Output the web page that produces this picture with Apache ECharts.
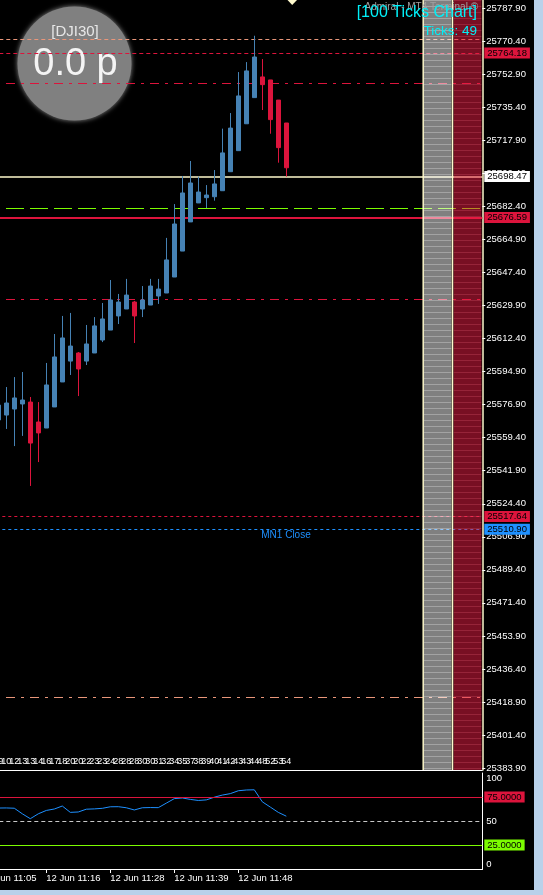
<!DOCTYPE html>
<html><head><meta charset="utf-8">
<script src="https://cdn.jsdelivr.net/npm/echarts@6/dist/echarts.min.js"></script>
<style>html,body{margin:0;padding:0;background:#000;overflow:hidden;width:543px;height:895px;position:relative}#c{position:absolute;left:-24px;top:0;width:567px;height:895px;}</style>
</head><body><div id="c"></div>
<script>
// ---- data ----
const priceLabels = ['25787.90','25770.40','25752.90','25735.40','25717.90','25700.40','25682.40','25664.90','25647.40','25629.90','25612.40','25594.90','25576.90','25559.40','25541.90','25524.40','25506.90','25489.40','25471.40','25453.90','25436.40','25418.90','25401.40','25383.90'];
const candleOpen  = [25569.0,25571.6,25574.8,25577.5,25578.5,25567.9,25564.7,25575.9,25589.2,25600.3,25604.6,25600.3,25604.6,25611.5,25616.8,25624.3,25628.0,25631.7,25628.0,25630.1,25634.9,25636.5,25645.0,25658.8,25674.3,25684.4,25687.2,25687.7,25690.9,25701.0,25712.2,25726.5,25740.4,25751.4,25749.8,25739.1,25726.9];
const candleClose = [25576.9,25578.0,25580.7,25579.6,25556.7,25562.1,25587.6,25602.5,25612.6,25608.3,25596.1,25609.4,25619.0,25622.7,25632.8,25631.7,25635.4,25624.3,25632.8,25640.2,25638.6,25654.1,25673.2,25689.7,25695.0,25690.2,25688.6,25694.5,25711.0,25724.2,25741.3,25754.6,25762.0,25747.3,25728.7,25713.8,25703.1];
const candleLow   = [25565.8,25564.2,25555.1,25560.5,25533.9,25546.6,25564.7,25575.9,25589.2,25592.9,25581.7,25598.2,25604.6,25610.4,25616.8,25620.0,25628.0,25609.9,25623.7,25630.1,25630.7,25636.5,25645.0,25658.8,25674.3,25684.4,25681.7,25685.6,25690.9,25701.0,25712.2,25726.5,25740.4,25733.8,25721.2,25705.8,25698.4];
const candleHigh  = [25579.6,25586.5,25591.8,25594.5,25581.2,25578.5,25599.3,25614.7,25624.3,25625.9,25605.1,25619.5,25623.7,25631.2,25643.4,25636.0,25644.0,25632.3,25640.2,25644.0,25644.0,25665.8,25683.8,25698.7,25706.7,25698.4,25693.9,25701.9,25723.9,25732.2,25754.0,25759.3,25773.3,25760.9,25749.8,25739.1,25726.9];
const oscValues   = [63.5,63.6,63.3,57.5,52.4,57.5,61.0,62.5,65.6,59.0,59.4,62.3,62.6,63.2,64.8,64.9,63.8,61.5,63.8,64.0,63.9,68.6,73.3,74.0,72.5,71.4,72.0,74.8,77.0,78.5,81.5,82.3,82.5,70.0,64.5,59.0,55.0];
const barLabels   = ['09','10','12','13','13','14','16','17','18','20','20','22','23','23','24','28','28','28','30','30','31','32','34','35','37','38','39','40','41','42','43','43','44','48','52','53','54'];
const timeLabels  = ['12 Jun 11:05','12 Jun 11:16','12 Jun 11:28','12 Jun 11:39','12 Jun 11:48'];
const oscLevels   = [100, 75, 50, 25, 0];

const salmonTop   = 25771.4;
const redDashTop  = 25764.18;
const redDashDot1 = 25748.0;
const bidLine     = 25698.47;
const greenDash   = 25681.5;
const redSolid    = 25676.59;
const redDashDot2 = 25633.1;
const redDashLow  = 25517.64;
const mn1Close    = 25510.90;
const salmonLow   = 25421.5;

const priceMin = 25382.85, priceMax = 25792.31;

// ---- build ----
const SHIFT = 24;               // container starts 24px left of the page
const X = v => v + SHIFT;       // page x -> container x
const LEAD = 2, TOTAL = 63;
const cats = Array.from({length: TOTAL}, (_, i) => 'c' + i);
const candleData = [];
for (let i = 0; i < LEAD; i++) candleData.push('-');
candleOpen.forEach((o, k) => candleData.push([o, candleClose[k], candleLow[k], candleHigh[k]]));
const oscData = [];
for (let i = 0; i < LEAD; i++) oscData.push('-');
oscValues.forEach(v => oscData.push(v));

const FONT = '"Liberation Sans", Arial, sans-serif';
function box(bg) {
  return {show: true, position: 'end', distance: 2, formatter: p => Number(p.value).toFixed(2),
    backgroundColor: bg, color: '#000', padding: [1, 3, 0, 3], fontSize: 9.5, fontFamily: FONT};
}
function stripes(base, stripe, h) {
  const c = document.createElement('canvas'); c.width = 4; c.height = h;
  const g = c.getContext('2d'); g.fillStyle = base; g.fillRect(0, 0, 4, h);
  g.clearRect(0, 0, 4, 1); g.fillStyle = stripe; g.fillRect(0, 0, 4, 1);
  return {image: c, repeat: 'repeat'};
}

const gridL = X(-21.7), gridR = 60.7;
const chart = echarts.init(document.getElementById('c'), null, {renderer: 'canvas'});
const option = {
  backgroundColor: '#000',
  animation: false,
  grid: [
    {left: gridL, right: gridR, top: 0, height: 770},
    {left: gridL, right: gridR, top: 8.3, height: 759.7},
    {left: gridL, right: gridR, top: 773, height: 96}
  ],
  xAxis: [
    {gridIndex: 0, type: 'category', data: cats, boundaryGap: true,
      axisLine: {show: true, lineStyle: {color: '#fff', width: 1}}, axisTick: {show: false},
      axisLabel: {inside: true, interval: 0, margin: 4, color: '#fff', fontSize: 9, fontFamily: FONT,
        formatter: (v, i) => barLabels[i - LEAD] || ''}, splitLine: {show: false}},
    {gridIndex: 1, type: 'category', data: cats, show: false},
    {gridIndex: 2, type: 'category', data: cats, boundaryGap: true, position: 'bottom',
      axisLine: {show: true, lineStyle: {color: '#fff'}},
      axisTick: {show: true, alignWithLabel: true, length: 4, lineStyle: {color: '#fff'},
        interval: i => i % 8 === 0 && i / 8 < timeLabels.length},
      axisLabel: {interval: 0, align: 'left', margin: 4, color: '#fff', fontSize: 9.5, fontFamily: FONT,
        formatter: (v, i) => (i % 8 === 0 ? (timeLabels[i / 8] || '') : '')},
      splitLine: {show: false}},
    {gridIndex: 2, type: 'category', data: cats, position: 'top',
      axisLine: {show: true, lineStyle: {color: '#fff'}}, axisTick: {show: false}, axisLabel: {show: false}}
  ],
  yAxis: [
    {gridIndex: 0, type: 'value', min: priceMin, max: priceMax, position: 'right',
      axisLine: {show: true, lineStyle: {color: '#fffacd', width: 1.5}}, axisTick: {show: false},
      axisLabel: {show: false}, splitLine: {show: false}},
    {gridIndex: 1, type: 'value', min: 0, max: priceLabels.length - 1, interval: 1, inverse: true, position: 'right',
      axisLine: {show: false}, axisTick: {show: true, length: 3, lineStyle: {color: '#fff'}},
      axisLabel: {margin: 4, color: '#fff', fontSize: 9.5, fontFamily: FONT, formatter: (v) => priceLabels[Math.round(v)]},
      splitLine: {show: false}},
    {gridIndex: 2, type: 'value', min: 0, max: 100, position: 'right',
      axisLine: {show: true, lineStyle: {color: '#fff'}}, axisTick: {show: false}, axisLabel: {show: false}, splitLine: {show: false}},
    {gridIndex: 2, type: 'value', min: 0, max: 100, interval: 50, position: 'right', axisLine: {show: false}, axisTick: {show: false},
      axisLabel: {margin: 4, color: '#fff', fontSize: 9.5, fontFamily: FONT, verticalAlign: 'top', formatter: v => v === oscLevels[0] ? String(v) : ''}, splitLine: {show: false}},
    {gridIndex: 2, type: 'value', min: 0, max: 100, interval: 50, position: 'right', axisLine: {show: false}, axisTick: {show: false},
      axisLabel: {margin: 4, color: '#fff', fontSize: 9.5, fontFamily: FONT, verticalAlign: 'middle', formatter: v => v === oscLevels[2] ? String(v) : ''}, splitLine: {show: false}},
    {gridIndex: 2, type: 'value', min: 0, max: 100, interval: 50, position: 'right', axisLine: {show: false}, axisTick: {show: false},
      axisLabel: {margin: 4, color: '#fff', fontSize: 9.5, fontFamily: FONT, verticalAlign: 'bottom', formatter: v => v === oscLevels[4] ? String(v) : ''}, splitLine: {show: false}}
  ],
  series: [
    {type: 'candlestick', xAxisIndex: 0, yAxisIndex: 0, data: candleData, barWidth: 5, z: 3,
      itemStyle: {color: '#4682b4', color0: '#dc143c', borderColor: '#4682b4', borderColor0: '#dc143c', borderWidth: 1},
      markLine: {symbol: ['none', 'none'], silent: true, animation: false, z: 2, label: {show: false},
        data: [
          {yAxis: salmonTop, lineStyle: {color: '#e9967a', type: [4, 3], width: 1}},
          {yAxis: redDashTop, lineStyle: {color: '#dc143c', type: [4, 3], width: 1}, label: box('#dc143c')},
          {yAxis: redDashDot1, lineStyle: {color: '#dc143c', type: [9, 6, 3, 6], dashOffset: 20.3, width: 1}},
          {yAxis: bidLine, lineStyle: {color: '#fffacd', type: 'solid', width: 1.5}, label: box('#ffffff')},
          {yAxis: greenDash, lineStyle: {color: '#7cfc00', type: [18, 6], dashOffset: 20.3, width: 1.2}},
          {yAxis: redSolid, lineStyle: {color: '#dc143c', type: 'solid', width: 2}, label: box('#dc143c')},
          {yAxis: redDashDot2, lineStyle: {color: '#dc143c', type: [9, 6, 3, 6], dashOffset: 20.3, width: 1}},
          {yAxis: redDashLow, lineStyle: {color: '#dc143c', type: [3, 3], width: 1}, label: box('#dc143c')},
          {yAxis: mn1Close, lineStyle: {color: '#1e90ff', type: [3, 3], width: 1}, label: box('#1e90ff')},
          {yAxis: salmonLow, lineStyle: {color: '#e9967a', type: [9, 6, 3, 6], dashOffset: 20.3, width: 1}}
        ]}},
    {type: 'line', xAxisIndex: 2, yAxisIndex: 2, data: oscData, symbol: 'none', z: 3,
      lineStyle: {color: '#1e90ff', width: 1}, itemStyle: {color: '#1e90ff'},
      markLine: {symbol: ['none', 'none'], silent: true, animation: false, label: {show: false},
        data: [
          {yAxis: oscLevels[1], lineStyle: {color: '#dc143c', type: 'solid', width: 1},
            label: Object.assign(box('#dc143c'), {formatter: p => Number(p.value).toFixed(4)})},
          {yAxis: oscLevels[2], lineStyle: {color: '#c8c8c8', type: [4, 3], width: 1}},
          {yAxis: oscLevels[3], lineStyle: {color: '#7cfc00', type: 'solid', width: 1},
            label: Object.assign(box('#7cfc00'), {formatter: p => Number(p.value).toFixed(4)})}
        ]}}
  ],
  graphic: [
    {type: 'circle', z: 0, shape: {cx: X(74.5), cy: 63.5, r: 57}, style: {fill: '#808080', shadowBlur: 5, shadowColor: 'rgba(200,200,200,0.7)'}},
    {type: 'text', z: 1, x: X(75), y: 31.5, style: {text: '[DJI30]', fill: '#e6e6e6', font: '15px ' + FONT, align: 'center', verticalAlign: 'middle'}},
    {type: 'text', z: 1, x: X(75.5), y: 65, style: {text: '0.0 p', fill: '#f4f4f4', font: '38px ' + FONT, align: 'center', verticalAlign: 'middle'}},
    {type: 'rect', z: 10, shape: {x: X(424), y: 0, width: 27.5, height: 770}, style: {fill: stripes('rgba(255,255,255,0.5)', 'rgba(255,255,255,0.64)', 6)}},
    {type: 'rect', z: 10, shape: {x: X(453.5), y: 0, width: 28, height: 770}, style: {fill: stripes('rgba(240,30,70,0.5)', 'rgba(250,60,95,0.6)', 6)}},
    {type: 'line', z: 11, shape: {x1: X(423.2), y1: 0, x2: X(423.2), y2: 770}, style: {stroke: '#fffacd', lineWidth: 1.5}},
    {type: 'line', z: 11, shape: {x1: X(452.5), y1: 0, x2: X(452.5), y2: 770}, style: {stroke: '#fffacd', lineWidth: 1.5}},
    {type: 'polygon', z: 11, shape: {points: [[X(287.5), 0], [X(297), 0], [X(292.2), 5]]}, style: {fill: '#fffacd'}},
    {type: 'text', z: 12, x: X(478), y: 7, style: {text: 'Admiral - MT4 Terminal \u00a9', fill: '#a0a0a0', font: '10px ' + FONT, align: 'right', verticalAlign: 'middle'}},
    {type: 'text', z: 13, x: X(477), y: 12.5, style: {text: '[100 Ticks Chart]', fill: '#00f0f8', font: '16px ' + FONT, align: 'right', verticalAlign: 'middle'}},
    {type: 'text', z: 13, x: X(477), y: 31.5, style: {text: 'Ticks: 49', fill: '#00f0f8', font: '13.5px ' + FONT, align: 'right', verticalAlign: 'middle'}},
    {type: 'text', z: 13, x: X(286), y: 535, style: {text: 'MN1 Close', fill: '#1e90ff', font: '10px ' + FONT, align: 'center', verticalAlign: 'middle'}},
    {type: 'rect', z: 20, shape: {x: X(534), y: 0, width: 9, height: 895}, style: {fill: '#b9d1ea'}},
    {type: 'rect', z: 20, shape: {x: 0, y: 890, width: X(543), height: 5}, style: {fill: '#b9d1ea'}}
  ]
};
chart.setOption(option);
</script>
</body></html>
